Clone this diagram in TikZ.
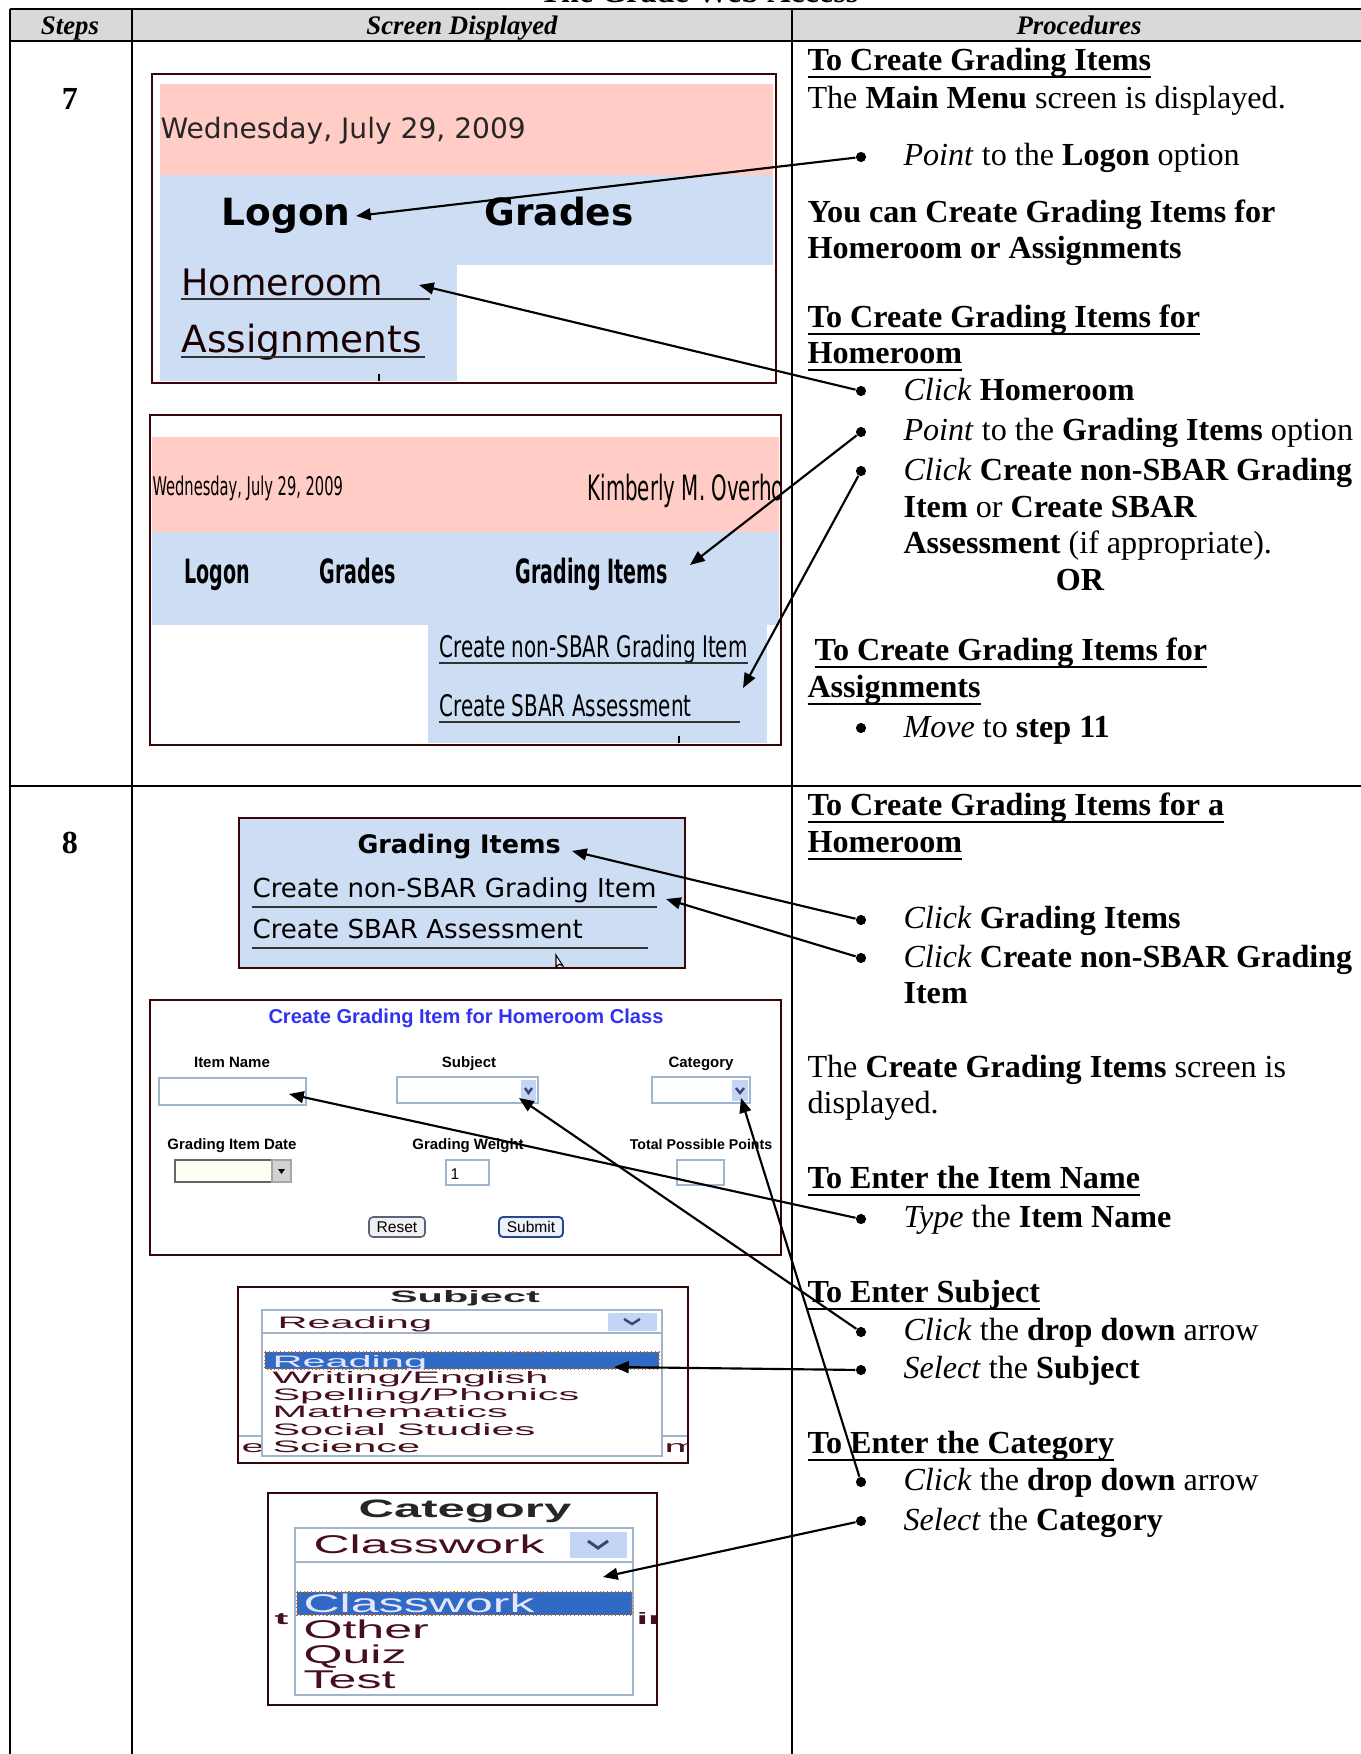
\documentclass[tikz,border=0pt]{standalone}
\usepackage{fontspec}
\setmainfont{Liberation Serif}
\usetikzlibrary{arrows.meta}
\newfontfamily\vsans{DejaVu Sans}
\newfontfamily\csans[FakeStretch=0.67]{DejaVu Sans}
\newfontfamily\cnsans[FakeStretch=0.57]{DejaVu Sans}
\newfontfamily\asans{Liberation Sans}
\newfontfamily\wsans[FakeStretch=2.5]{Liberation Sans}
\newfontfamily\wcsans[FakeStretch=1.95]{Liberation Sans}
\newcommand\fs[1]{\fontsize{#1}{#1}\selectfont}
\newcommand\ulx[1]{\setbox0=\hbox{#1}\rlap{\vrule height -2.3pt depth 3.05pt width \wd0}\box0}
\definecolor{pinkband}{RGB}{255,205,197}
\definecolor{blueband}{RGB}{205,222,244}
\definecolor{shotframe}{RGB}{55,5,5}
\definecolor{hdrgray}{RGB}{217,217,217}
\definecolor{selblue}{RGB}{49,106,197}
\definecolor{formblue}{RGB}{50,50,240}
\definecolor{boxedge}{RGB}{160,180,205}
\definecolor{btnblue}{RGB}{195,212,245}
\definecolor{itemtxt}{RGB}{70,15,30}
\definecolor{chev}{RGB}{55,70,115}
\begin{document}
\begin{tikzpicture}[x=0.3735pt,y=-0.3735pt,
  tbl/.style={line width=0.8pt},
  hdr/.style={anchor=base, inner sep=0pt, font=\bfseries\itshape\fs{10pt}},
  ptxt/.style={anchor=base west, inner sep=0pt, font=\fs{12pt}},
  ctr/.style={anchor=base, inner sep=0pt},
  stxt/.style={anchor=base west, inner sep=0pt},
  bul/.style={circle, fill=black, inner sep=0pt, minimum size=3.8pt},
  arr/.style={line width=0.8pt, -{Triangle[length=5.5pt,width=4.4pt]}},
  shotbox/.style={draw=shotframe, line width=1.1pt},
  thinshot/.style={draw=shotframe, line width=0.7pt},
  ulink/.style={line width=0.9pt, black!80},
  field/.style={draw=boxedge, line width=0.6pt, fill=white},
  chevline/.style={draw=chev, line width=0.9pt},
  itm/.style={anchor=base west, inner sep=0pt, text=itemtxt}
]
\useasboundingbox (0,0) rectangle (1361,1754);

% ---------- table ----------
\fill[hdrgray] (10,9) rectangle (1361,41);
\node[ctr, font=\bfseries\fs{12pt}] (title) at (699,3) {The Grade Web Access};
\draw[tbl] (10,9) -- (1361,9);
\draw[tbl] (10,41) -- (1361,41);
\draw[tbl] (10,786) -- (1361,786);
\draw[tbl] (10,9) -- (10,1754);
\draw[tbl] (132,9) -- (132,1754);
\draw[tbl] (792,9) -- (792,1754);
\node[hdr] (hsteps) at (70,34) {Steps};
\node[hdr] (hscreen) at (462,34) {Screen Displayed};
\node[hdr] (hproc) at (1079,34) {Procedures};
\node[ctr, font=\bfseries\fs{12pt}] (n7) at (70,109) {7};
\node[ctr, font=\bfseries\fs{12pt}] (n8) at (70,853) {8};

% ---------- screenshot 1 ----------
\fill[white] (152,74) rectangle (776,383);
\fill[pinkband] (160,84) rectangle (773,175);
\fill[blueband] (160,175) rectangle (773,265);
\fill[blueband] (160,265) rectangle (457,381);
\node[stxt, font=\vsans\fs{10.5pt}, text=black!85] (s1date) at (160,138) {Wednesday, July 29, 2009};
\node[stxt, font=\vsans\bfseries\fs{14pt}] (s1logon) at (221,225) {Logon};
\node[stxt, font=\vsans\bfseries\fs{14pt}] (s1grades) at (484,225) {Grades};
\node[stxt, font=\vsans\fs{13.6pt}, text=black!90!red] (s1home) at (181,295) {Homeroom};
\draw[ulink] (181,299) -- (430,299);
\node[stxt, font=\vsans\fs{14pt}, text=black!90!red] (s1assign) at (181,352) {Assignments};
\draw[ulink] (181,357) -- (425,357);
\draw[line width=0.6pt] (379,374) -- (379,381);
\draw[shotbox] (152,74) rectangle (776,383);

% ---------- screenshot 2 ----------
\fill[white] (150,415) rectangle (781,745);
\fill[pinkband] (152,437) rectangle (779,532);
\fill[blueband] (152,532) rectangle (779,625);
\fill[blueband] (428,625) rectangle (767,743);
\begin{scope}
\clip (152,415) rectangle (779,745);
\node[stxt, font=\cnsans\fs{9.6pt}] (s2date) at (152,495) {Wednesday, July 29, 2009};
\node[stxt, font=\cnsans\fs{13pt}] (s2name) at (587,500) {Kimberly M. Overho};
\end{scope}
\node[stxt, font=\cnsans\bfseries\fs{12.5pt}] (s2logon) at (184,583) {Logon};
\node[stxt, font=\cnsans\bfseries\fs{12.5pt}] (s2grades) at (319,583) {Grades};
\node[stxt, font=\cnsans\bfseries\fs{12.5pt}] (s2items) at (515,583) {Grading Items};
\node[stxt, font=\csans\fs{11.1pt}] (s2non) at (439,657) {Create non-SBAR Grading Item};
\draw[ulink] (439,663) -- (748,663);
\node[stxt, font=\csans\fs{11.1pt}] (s2sbar) at (439,716) {Create SBAR Assessment};
\draw[ulink] (439,722) -- (740,722);
\draw[line width=0.6pt] (679,736) -- (679,743);
\draw[shotbox] (150,415) rectangle (781,745);

% ---------- screenshot 3 ----------
\filldraw[fill=blueband, thinshot] (239,818) rectangle (685,968);
\node[stxt, font=\vsans\bfseries\fs{9.5pt}] (s3items) at (357,853) {Grading Items};
\node[stxt, font=\vsans\fs{9.75pt}] (s3non) at (252,897) {Create non-SBAR Grading Item};
\draw[ulink] (252,907) -- (657,907);
\node[stxt, font=\vsans\fs{9.75pt}] (s3sbar) at (252,938) {Create SBAR Assessment};
\draw[ulink] (252,948) -- (648,948);
\draw[line width=0.4pt, fill=white] (556,955) -- (556,967) -- (559,964) -- (563,966) -- cycle;

% ---------- screenshot 4 (form) ----------
\filldraw[fill=white, draw=shotframe, line width=0.6pt] (150,1000) rectangle (781,1255);
\node[ctr, font=\asans\bfseries\fs{7.5pt}, text=formblue] (s4title) at (466,1023) {Create Grading Item for Homeroom Class};
\node[ctr, font=\asans\bfseries\fs{5.6pt}] (l1) at (232,1067) {Item Name};
\node[ctr, font=\asans\bfseries\fs{5.6pt}] (l2) at (469,1067) {Subject};
\node[ctr, font=\asans\bfseries\fs{5.6pt}] (l3) at (701,1067) {Category};
\node[ctr, font=\asans\bfseries\fs{5.6pt}] (l4) at (232,1149) {Grading Item Date};
\node[ctr, font=\asans\bfseries\fs{5.6pt}] (l5) at (468,1149) {Grading Weight};
\node[ctr, font=\asans\bfseries\fs{5.3pt}] (l6) at (701,1149) {Total Possible Points};
\draw[field] (159,1078) rectangle (306,1105);
\draw[field] (397,1077) rectangle (538,1103);
\fill[btnblue] (521,1080) rectangle (536,1101);
\draw[chevline] (525,1088) -- (528.5,1093) -- (532,1088);
\draw[field] (652,1077) rectangle (750,1103);
\fill[btnblue] (732,1080) rectangle (748,1101);
\draw[chevline] (736,1088) -- (740,1093) -- (744,1088);
\filldraw[fill=white!95!yellow, draw=gray!80!black, line width=0.6pt] (175,1160) rectangle (272,1182);
\filldraw[fill=gray!35, draw=gray!70, line width=0.5pt] (272,1160) rectangle (291,1182);
\fill (278,1169) -- (285,1169) -- (281.5,1174) -- cycle;
\draw[field] (446,1160) rectangle (489,1185);
\node[stxt, font=\asans\fs{5.8pt}] (w1) at (450,1179) {1};
\draw[field] (677,1160) rectangle (724,1185);
\filldraw[fill=gray!12, draw={rgb,255:red,90;green,100;blue,120}, line width=0.6pt, rounded corners=1.5pt] (369,1217) rectangle (425,1237);
\node[ctr, font=\asans\fs{5.8pt}] (breset) at (397,1232) {Reset};
\filldraw[fill={rgb,255:red,236;green,240;blue,250}, draw={rgb,255:red,40;green,70;blue,140}, line width=0.7pt, rounded corners=1.5pt] (499,1217) rectangle (563,1237);
\node[ctr, font=\asans\fs{5.8pt}] (bsubmit) at (531,1232) {Submit};

% ---------- screenshot 5 (subject list) ----------
\fill[white] (238,1287) rectangle (688,1463);
\begin{scope}
\clip (238,1287) rectangle (688,1463);
\draw[boxedge, line width=0.8pt] (238,1436) -- (262,1436);
\draw[boxedge, line width=0.8pt] (662,1436) -- (688,1436);
\node[itm, font=\wsans\fs{6.2pt}] (s5e) at (241,1452) {e};
\node[itm, font=\wsans\fs{6.2pt}] (s5m) at (664,1452) {m};
\end{scope}
\node[ctr, font=\wsans\bfseries\fs{6.2pt}, text=black!85] (s5head) at (465,1302) {Subject};
\filldraw[fill=white, draw=boxedge, line width=0.9pt] (262,1310) rectangle (662,1456);
\draw[boxedge, line width=0.9pt] (262,1333) -- (662,1333);
\node[itm, font=\wsans\fs{6.2pt}] (s5sel) at (277,1328) {Reading};
\fill[btnblue] (608,1313) rectangle (657,1331);
\draw[chevline] (624,1319) -- (632,1324) -- (640,1319);
\fill[selblue] (265,1352) rectangle (659,1369);
\draw[densely dotted, orange!80!black, line width=0.4pt] (265,1352) rectangle (659,1369);
\node[itm, font=\wsans\fs{6.2pt}, text=white!90!blue] (s5r) at (272,1367) {Reading};
\node[itm, font=\wsans\fs{6.2pt}] (s5w) at (272,1383) {Writing/English};
\node[itm, font=\wsans\fs{6.2pt}] (s5s) at (272,1400) {Spelling/Phonics};
\node[itm, font=\wsans\fs{6.2pt}] (s5m2) at (272,1417) {Mathematics};
\node[itm, font=\wsans\fs{6.2pt}] (s5ss) at (272,1435) {Social Studies};
\node[itm, font=\wsans\fs{6.2pt}] (s5sc) at (272,1452) {Science};
\draw[thinshot] (238,1287) rectangle (688,1463);

% ---------- screenshot 6 (category list) ----------
\fill[white] (268,1493) rectangle (657,1705);
\begin{scope}
\clip (268,1493) rectangle (657,1705);
\node[itm, font=\wsans\bfseries\fs{6.2pt}] (s6t) at (274,1624) {t};
\node[itm, font=\wsans\bfseries\fs{6.2pt}] (s6i) at (636,1624) {ir};
\end{scope}
\node[ctr, font=\wcsans\bfseries\fs{9.4pt}, text=black!85] (s6head) at (465,1517) {Category};
\filldraw[fill=white, draw=boxedge, line width=1.1pt] (295,1528) rectangle (633,1695);
\draw[boxedge, line width=1.1pt] (295,1562) -- (633,1562);
\node[itm, font=\wcsans\fs{9.6pt}] (s6sel) at (313,1553) {Classwork};
\fill[btnblue] (570,1532) rectangle (627,1558);
\draw[chevline, line width=1.1pt] (588,1541) -- (598,1548) -- (608,1541);
\fill[selblue] (297,1592) rectangle (632,1615);
\draw[densely dotted, orange!80!black, line width=0.4pt] (297,1592) rectangle (632,1615);
\node[itm, font=\wcsans\fs{9.6pt}, text=white!90!blue] (s6c) at (303,1612) {Classwork};
\node[itm, font=\wcsans\fs{9.6pt}] (s6o) at (303,1638) {Other};
\node[itm, font=\wcsans\fs{9.6pt}] (s6q) at (303,1663) {Quiz};
\node[itm, font=\wcsans\fs{9.6pt}] (s6te) at (303,1688) {Test};
\draw[thinshot] (268,1493) rectangle (657,1705);

% ---------- procedures, step 7 ----------
\node[ptxt] (p1) at (807,70) {\textbf{\ulx{To Create Grading Items}}};
\node[ptxt] (p2) at (807,108) {The \textbf{Main Menu} screen is displayed.};
\node[bul] (b1) at (861,157) {};
\node[ptxt] (p3) at (903,165) {\textit{Point} to the \textbf{Logon} option};
\node[ptxt] (p4) at (807,222) {\textbf{You can Create Grading Items for}};
\node[ptxt] (p5) at (807,258) {\textbf{Homeroom or Assignments}};
\node[ptxt] (p6) at (807,327) {\textbf{\ulx{To Create Grading Items for}}};
\node[ptxt] (p7) at (807,363) {\textbf{\ulx{Homeroom}}};
\node[bul] (b2) at (861,391) {};
\node[ptxt] (p8) at (903,400) {\textit{Click} \textbf{Homeroom}};
\node[bul] (b3) at (861,432) {};
\node[ptxt] (p9) at (903,440) {\textit{Point} to the \textbf{Grading Items} option};
\node[bul] (b4) at (861,471) {};
\node[ptxt] (p10) at (903,480) {\textit{Click} \textbf{Create non-SBAR Grading}};
\node[ptxt] (p11) at (903,517) {\textbf{Item} or \textbf{Create SBAR}};
\node[ptxt] (p12) at (903,553) {\textbf{Assessment} (if appropriate).};
\node[ctr, font=\bfseries\fs{12pt}] (p13) at (1080,590) {OR};
\node[ptxt] (p14) at (814,660) {\textbf{\ulx{To Create Grading Items for}}};
\node[ptxt] (p15) at (807,697) {\textbf{\ulx{Assignments}}};
\node[bul] (b5) at (861,728) {};
\node[ptxt] (p16) at (903,737) {\textit{Move} to \textbf{step 11}};

% ---------- procedures, step 8 ----------
\node[ptxt] (p17) at (807,815) {\textbf{\ulx{To Create Grading Items for a}}};
\node[ptxt] (p18) at (807,852) {\textbf{\ulx{Homeroom}}};
\node[bul] (b6) at (861,920) {};
\node[ptxt] (p19) at (903,928) {\textit{Click} \textbf{Grading Items}};
\node[bul] (b7) at (861,958) {};
\node[ptxt] (p20) at (903,967) {\textit{Click} \textbf{Create non-SBAR Grading}};
\node[ptxt] (p21) at (903,1003) {\textbf{Item}};
\node[ptxt] (p22) at (807,1077) {The \textbf{Create Grading Items} screen is};
\node[ptxt] (p23) at (807,1113) {displayed.};
\node[ptxt] (p24) at (807,1188) {\textbf{\ulx{To Enter the Item Name}}};
\node[bul] (b8) at (861,1219) {};
\node[ptxt] (p25) at (903,1227) {\textit{Type} the \textbf{Item Name}};
\node[ptxt] (p26) at (807,1302) {\textbf{\ulx{To Enter Subject}}};
\node[bul] (b9) at (861,1332) {};
\node[ptxt] (p27) at (903,1340) {\textit{Click} the \textbf{drop down} arrow};
\node[bul] (b10) at (861,1370) {};
\node[ptxt] (p28) at (903,1378) {\textit{Select} the \textbf{Subject}};
\node[ptxt] (p29) at (807,1453) {\textbf{\ulx{To Enter the Category}}};
\node[bul] (b11) at (861,1482) {};
\node[ptxt] (p30) at (903,1490) {\textit{Click} the \textbf{drop down} arrow};
\node[bul] (b12) at (861,1521) {};
\node[ptxt] (p31) at (903,1530) {\textit{Select} the \textbf{Category}};

% ---------- connectors ----------
\coordinate (tA) at (356,216);
\coordinate (tB) at (419,285);
\coordinate (tC) at (690,565);
\coordinate (tD) at (743,688);
\coordinate (tE) at (572,851);
\coordinate (tF) at (666,899);
\coordinate (tG) at (289,1094);
\coordinate (tH) at (519,1098);
\coordinate (tI) at (741,1098);
\coordinate (tJ) at (614,1367);
\coordinate (tK) at (603,1577);
\draw[arr] (b1) -- (tA);
\draw[arr] (b2) -- (tB);
\draw[arr] (b3) -- (tC);
\draw[arr] (b4) -- (tD);
\draw[arr] (b6) -- (tE);
\draw[arr] (b7) -- (tF);
\draw[arr] (b8) -- (tG);
\draw[arr] (b9) -- (tH);
\draw[arr] (b11) -- (tI);
\draw[arr] (b10) -- (tJ);
\draw[arr] (b12) -- (tK);
\end{tikzpicture}
\end{document}
